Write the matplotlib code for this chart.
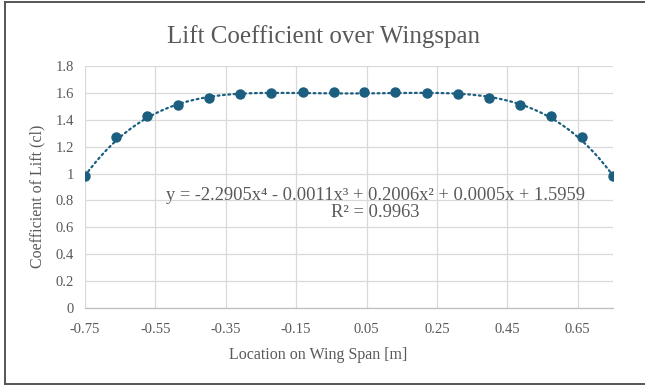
import matplotlib
matplotlib.use("Agg")
import matplotlib.pyplot as plt
from matplotlib.lines import Line2D
import numpy as np

# span positions [m] and lift coefficient
span_x = [-0.75, -0.662, -0.574, -0.485, -0.397, -0.309, -0.221, -0.132, -0.044,
          0.044, 0.132, 0.221, 0.309, 0.397, 0.485, 0.574, 0.662, 0.75]
cl = [0.98, 1.27, 1.43, 1.51, 1.56, 1.59, 1.60, 1.61, 1.61,
      1.61, 1.61, 1.60, 1.59, 1.56, 1.51, 1.43, 1.27, 0.98]

# trendline coefficients as printed on the chart (highest power first)
trend_coef = [-2.2905, -0.0011, 0.2006, 0.0005, 1.5959]
r_squared = 0.9963

x_ticks = [-0.75, -0.55, -0.35, -0.15, 0.05, 0.25, 0.45, 0.65]
y_ticks = [0, 0.2, 0.4, 0.6, 0.8, 1, 1.2, 1.4, 1.6, 1.8]

TEXT = "#595959"
GRID = "#D9D9D9"
MARK = "#1B5E80"

plt.rcParams["font.family"] = ["Liberation Serif", "DejaVu Serif"]

fig = plt.figure(figsize=(6.45, 3.87), dpi=100)
ax = fig.add_axes([85 / 645, 1 - 308 / 387, 528 / 645, 242 / 387])

xs = np.linspace(min(span_x), max(span_x), 300)
ax.plot(xs, np.polyval(trend_coef, xs), color=MARK, lw=1.6,
        linestyle=(0, (0.8, 1.6)), dash_capstyle="round", zorder=2)
ax.plot(span_x, cl, "o", color=MARK, ms=6.5, zorder=3)

ax.set_xlim(-0.75, 0.75)
ax.set_ylim(0, 1.8)
ax.set_xticks(x_ticks)
ax.set_xticklabels([f"{t:g}" for t in x_ticks])
ax.set_yticks(y_ticks)
ax.set_yticklabels([f"{t:g}" for t in y_ticks])
ax.grid(True, color=GRID, lw=0.9)
ax.set_axisbelow(True)
for side in ("top", "right", "left"):
    ax.spines[side].set_visible(False)
ax.spines["bottom"].set_color("#BFBFBF")
ax.spines["bottom"].set_linewidth(0.9)
ax.tick_params(length=0, colors=TEXT, labelsize=10.5)
ax.tick_params(axis="x", pad=11)
ax.tick_params(axis="y", pad=8)

ax.set_xlabel("Location on Wing Span [m]", color=TEXT, fontsize=11.5)
ax.xaxis.set_label_coords((318 - 85) / 528, -(347 - 308) / 242)
ax.set_ylabel("Coefficient of Lift (cl)", color=TEXT, fontsize=11.5)
ax.yaxis.set_label_coords(-(85 - 45) / 528, (308 - 196) / 242)

fig.text(0.502, 1 - 37 / 387, "Lift Coefficient over Wingspan", ha="center",
         va="center", color=TEXT, fontsize=18)

a, b, c, d, e = trend_coef
eq = (f"y = {a}x\u2074 - {abs(b)}x\u00b3 + {c}x\u00b2 + {d}x + {e}\n"
      f"R\u00b2 = {r_squared}")
ax.text(0.074, 0.77, eq, ha="center", va="center", color=TEXT, fontsize=13.3,
        linespacing=1.0, transform=ax.transData)

# outer chart border (left, top, bottom)
bx0, bx1 = 4.5 / 645, 1.0
by0, by1 = 1 - 383.5 / 387, 1 - 1.5 / 387
for xd, yd in [((bx0, bx0), (by0, by1)), ((bx0, bx1), (by1, by1)),
               ((bx0, bx1), (by0, by0))]:
    fig.add_artist(Line2D(xd, yd, color="#555555", lw=1.4, transform=fig.transFigure))

fig.savefig("out.png", dpi=100, facecolor="white")
